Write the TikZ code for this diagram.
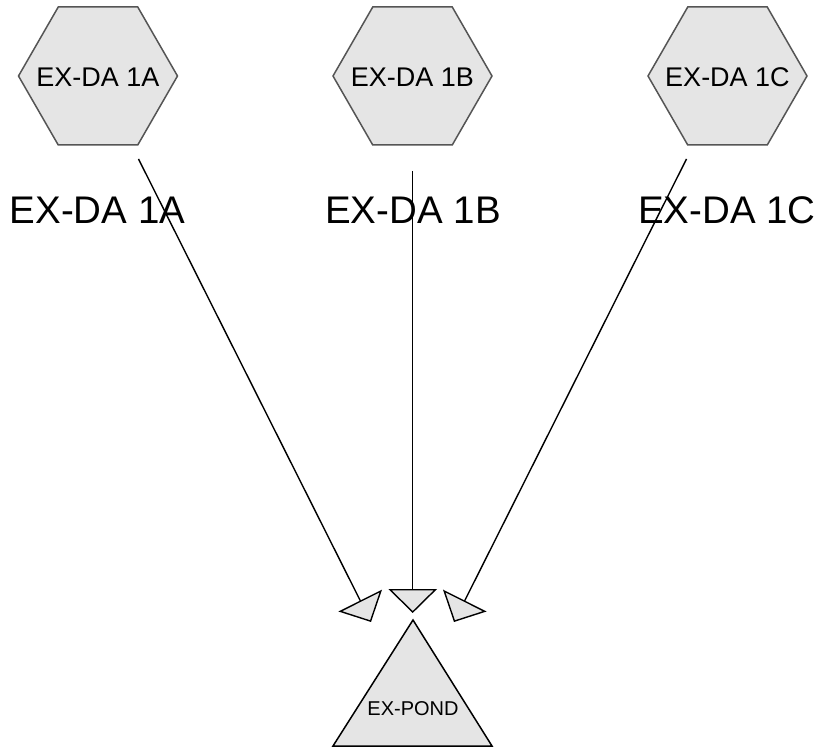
\documentclass[tikz,border=0pt]{standalone}
\usepackage{fontspec}
\setmainfont{Liberation Sans}
\usetikzlibrary{shapes.geometric,arrows.meta}
\definecolor{fillgray}{HTML}{E5E5E5}
\definecolor{hexline}{HTML}{555555}
\begin{document}
\begin{tikzpicture}[x=1pt,y=-1pt,
 hexshape/.style={draw=hexline, line width=1.5pt, fill=fillgray},
 hextext/.style={inner sep=0pt, font=\fontsize{27}{30}\selectfont},
 biglabel/.style={anchor=base, inner sep=0pt, font=\fontsize{38.5}{42}\selectfont},
 pondbox/.style={draw=black, line width=1.5pt, fill=fillgray, line join=miter},
 pondlabel/.style={anchor=base, inner sep=0pt, font=\fontsize{20}{22}\selectfont},
 flow/.style={line width=1.4pt, -{Triangle[length=24pt,width=48.5pt,fill=fillgray,line width=1.4pt]}}
]
\useasboundingbox (0,0) rectangle (823,749);
\foreach \cx/\nm in {98/A,412.5/B,727.5/C}{
  \draw[hexshape] (\cx-79.5,76) -- (\cx-39.75,7) -- (\cx+39.75,7) -- (\cx+79.5,76)
     -- (\cx+39.75,145) -- (\cx-39.75,145) -- cycle;
}
\node[hextext] (hA) at (98,77) {EX-DA 1A};
\node[hextext] (hB) at (412.5,77) {EX-DA 1B};
\node[hextext] (hC) at (727.5,77) {EX-DA 1C};
\node[biglabel] (lA) at (97.5,224) {EX-DA 1A};
\node[biglabel] (lB) at (413,224) {EX-DA 1B};
\node[biglabel] (lC) at (727,224) {EX-DA 1C};
\coordinate (pTop) at (413,620);
\coordinate (pRight) at (492,746);
\coordinate (pLeft) at (333,746);
\draw[pondbox] (pTop) -- (pRight) -- (pLeft) -- cycle;
\node[pondlabel] (pond) at (413,715) {EX-POND};
\coordinate (sA) at (138.5,159);
\coordinate (tA) at (371,622);
\coordinate (sB) at (412.7,171);
\coordinate (tB) at (412.7,613);
\coordinate (sC) at (686.5,159);
\coordinate (tC) at (454,622);
\draw[flow] (sA) -- (tA);
\draw[flow] (sB) -- (tB);
\draw[flow] (sC) -- (tC);
\end{tikzpicture}
\end{document}
